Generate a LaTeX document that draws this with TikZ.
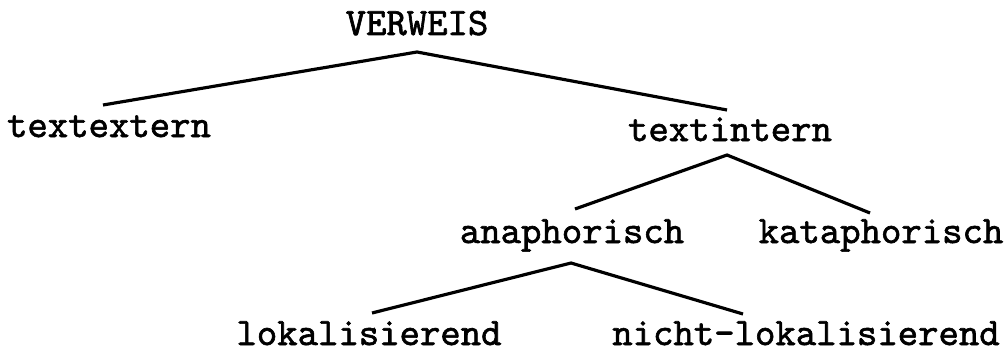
\documentclass[tikz,border=0pt]{standalone}
\usepackage{fontspec}
\newfontfamily\typefont{lmmono10-regular.otf}[FakeBold=1.6]
\usepackage{tikz}
\usetikzlibrary{calc}

\begin{document}
\begin{tikzpicture}[word/.style={inner sep=0pt, anchor=base, font=\typefont\fontsize{11.05}{13}\selectfont}, line width=0.9pt]
  \useasboundingbox (0,0) rectangle (10.08,3.49);

  \node [word] (verweis) at (4.17,3.14) {VERWEIS};
  \node [word] (extern) at (1.09,2.12) {textextern};
  \node [word] (intern) at (7.30,2.08) {textintern};
  \node [word] (ana) at (5.72,1.06) {anaphorisch};
  \node [word] (kata) at (8.81,1.06) {kataphorisch};
  \node [word] (lokal) at (3.69,0.04) {lokalisierend};
  \node [word] (nichtlokal) at (8.06,0.04) {nicht-lokalisierend};

  % branches, from just under each mother to just over each daughter
  \draw ([shift={(-0.06,0.32)}]extern.base) -- ([yshift=-0.17cm]verweis.base)
        -- ([shift={(-0.03,0.31)}]intern.base);
  \draw ([shift={(0.03,0.34)}]ana.base) -- ([shift={(-0.03,-0.14)}]intern.base)
        -- ([shift={(-0.11,0.30)}]kata.base);
  \draw ([shift={(0.03,0.32)}]lokal.base) -- ([shift={(-0.01,-0.20)}]ana.base)
        -- ([shift={(-0.63,0.31)}]nichtlokal.base);
\end{tikzpicture}
\end{document}
